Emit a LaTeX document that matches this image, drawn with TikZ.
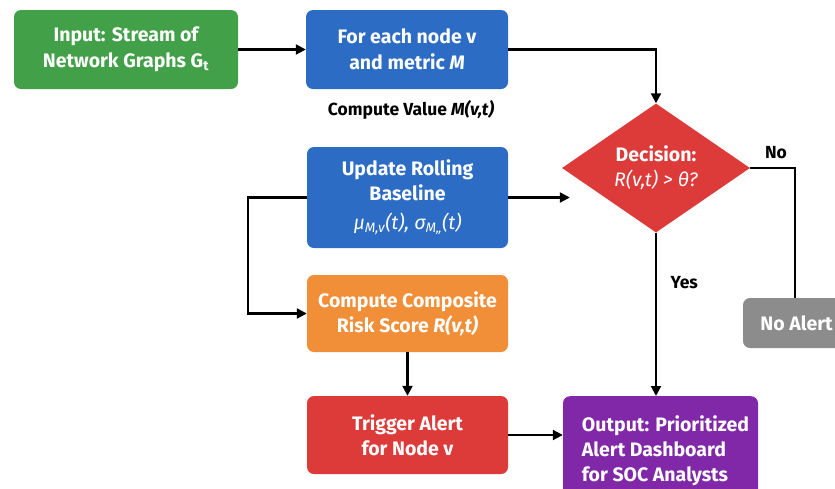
\documentclass[tikz,border=0pt]{standalone}
\usepackage{fontspec}
\setmainfont{Fira Sans}
\usetikzlibrary{shapes,arrows.meta,positioning,calc}
\definecolor{flowgreen}{RGB}{66,160,72}
\definecolor{flowblue}{RGB}{44,108,196}
\definecolor{flowred}{RGB}{221,58,58}
\definecolor{floworange}{RGB}{241,142,56}
\definecolor{flowpurple}{RGB}{128,40,168}
\definecolor{flowgray}{RGB}{140,140,140}

\begin{document}
\begin{tikzpicture}[x=1pt, y=-1pt,
    box/.style={rectangle, rounded corners=7pt, text=white, align=center, inner sep=0pt,
      font=\fontsize{19.5}{25}\selectfont\bfseries},
    flow/.style={line width=2.2pt, -{Triangle[length=10pt,width=10pt]}},
    plain/.style={line width=2.2pt},
    tag/.style={font=\fontsize{17.5}{20}\selectfont\bfseries}]
				\clip (0,0) rectangle (835,488);
				\fill[white] (0,0) rectangle (835,488);
				
				% Top row
				\node[box, fill=flowgreen, minimum width=224pt, minimum height=79pt] (input) at (126,49.5) {Input: Stream of\\[1pt]Network Graphs G\textsubscript{t}};
				\node[box, fill=flowblue, minimum width=202pt, minimum height=79pt] (each) at (407,49.5) {For each node v\\[1pt]and metric \textit{M}};
				\node[tag] (value) at (411,110) {Compute Value \textit{M(v,t)}};
				
				% Decision diamond
				\node[diamond, fill=flowred, text=white, inner sep=0pt, minimum width=188pt, minimum height=129pt, align=center, font=\fontsize{19.5}{25}\selectfont] (dec) at (656,168) {\textbf{Decision:}\\\textit{R(v,t) > θ?}};
				
				% Left column
				\node[box, fill=flowblue, minimum width=201pt, minimum height=101pt] (upd) at (407.5,197.5) {Update Rolling\\Baseline\\[4pt]\mdseries\textit{μ\textsubscript{M,v}(t), σ\textsubscript{M,,}(t)}};
				\node[box, fill=floworange, minimum width=201pt, minimum height=77pt] (comp) at (407.5,313.5) {Compute Composite\\Risk Score \textit{R(v,t)}};
				\node[box, fill=flowred, minimum width=201pt, minimum height=78pt] (trig) at (407.5,435) {Trigger Alert\\for Node v};
				
				% Outputs
				\node[box, fill=flowpurple, minimum width=195pt, minimum height=110pt, align=left, anchor=north] (out) at (660.5,396) {\hspace*{10pt}Output: Prioritized\\\hspace*{10pt}Alert Dashboard\\\hspace*{10pt}for SOC Analysts};
				\node[box, fill=flowgray, minimum width=107pt, minimum height=50pt] (noalert) at (796.5,323) {No Alert};
				
				% Connections
				\draw[flow] (input) -- (each);
				\draw[flow] (each.east) -| (dec.north);
				\draw[flow] (upd.east) -- ($(upd.east -| dec.west)+(8,0)$);
				\draw[flow] (upd.west) -- ++(-59,0) |- (comp.west);
				\draw[flow] (comp) -- (trig);
				\draw[flow] (trig) -- (out.west |- trig);
				\draw[flow] (dec.south) -- (dec.south |- out.north);
				\draw[plain] (dec.east) -| (noalert.north -| 795,0);
				
				\node[tag, anchor=west] (yes) at (667,283) {Yes};
				\node[tag] (no) at (776,153) {No};
			\end{tikzpicture}
\end{document}
